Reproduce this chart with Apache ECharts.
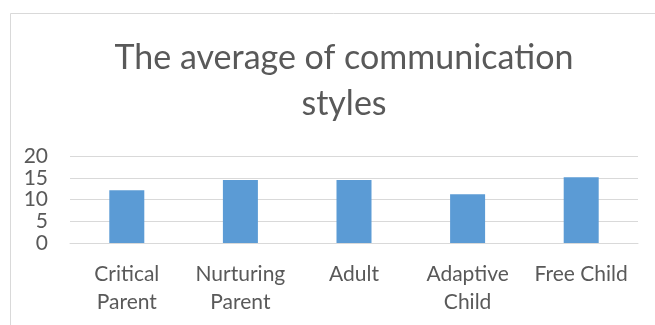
<!DOCTYPE html>
<html><head><meta charset="utf-8">
<script src="https://cdn.jsdelivr.net/npm/echarts@6/dist/echarts.min.js"></script>
<style>html,body{margin:0;padding:0;background:#fff}#c{width:655px;height:325px}</style>
</head><body><div id="c"></div>
<script>
var titleText = 'The average of communication\nstyles';
var categories = ['Critical\nParent', 'Nurturing\nParent', 'Adult', 'Adaptive\nChild', 'Free Child'];
var values = [12.1, 14.5, 14.5, 11.2, 15.1];
var yTicks = [0, 5, 10, 15, 20];

var chart = echarts.init(document.getElementById('c'), null, {renderer: 'canvas'});
chart.setOption({
  animation: false,
  backgroundColor: '#ffffff',
  graphic: [{
    type: 'rect', left: 8, top: 11, z: -1,
    shape: {x: 0, y: 0, width: 700, height: 400},
    style: {fill: 'none', stroke: '#d9d9d9', lineWidth: 1}
  }],
  title: {
    text: titleText, left: 339, textAlign: 'center', top: 30,
    textStyle: {fontFamily: 'Lato', fontWeight: 'normal', fontSize: 34, color: '#595959', lineHeight: 46}
  },
  grid: {left: 70, right: 17, top: 156, bottom: 82, containLabel: false},
  xAxis: {
    type: 'category', data: categories,
    axisLine: {lineStyle: {color: '#d9d9d9'}},
    axisTick: {show: false},
    axisLabel: {interval: 0, margin: 17, fontFamily: 'Lato', fontSize: 21, color: '#595959', lineHeight: 28}
  },
  yAxis: {
    type: 'value', min: yTicks[0], max: yTicks[yTicks.length - 1], interval: 5,
    axisLine: {show: false}, axisTick: {show: false},
    splitLine: {lineStyle: {color: '#d9d9d9'}},
    axisLabel: {margin: 22, fontFamily: 'Lato', fontSize: 21, color: '#595959'}
  },
  series: [{
    type: 'bar', data: values, barWidth: 35,
    itemStyle: {color: '#5b9bd5'}
  }]
});
</script></body></html>
